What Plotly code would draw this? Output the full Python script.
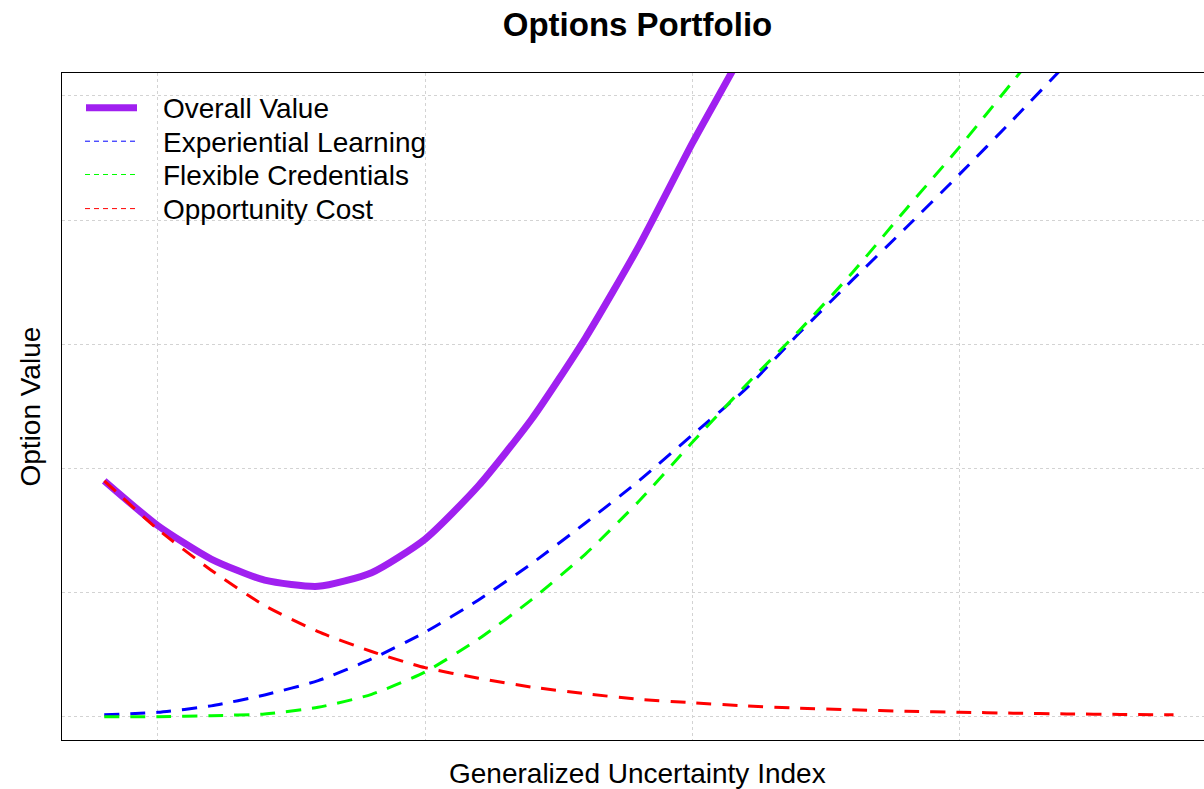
import plotly.graph_objects as go

# ---- data ----
uncertainty = [0.8, 1.0, 1.2, 1.4, 1.6, 1.8, 2.0, 2.2, 2.4, 2.6, 2.8,
               3.0, 3.2, 3.4, 3.6, 3.8, 4.0, 4.2, 4.4, 4.6, 4.8]
overall_value = [1.90, 1.54, 1.27, 1.10, 1.05, 1.16, 1.43, 1.86, 2.40, 3.05, 3.79,
                 4.62, 5.40, 6.29, 7.15, 8.07, 9.00, 9.96, 10.93, 11.92, 12.92]
experiential_learning = [0.015, 0.035, 0.087, 0.175, 0.29, 0.465, 0.68, 0.94, 1.235, 1.56, 1.90,
                         2.27, 2.64, 3.09, 3.52, 3.94, 4.37, 4.81, 5.26, 5.70, 6.15]
flexible_credentials = [0.0, 0.0, 0.008, 0.022, 0.075, 0.18, 0.36, 0.625, 0.945, 1.31, 1.735,
                        2.21, 2.67, 3.11, 3.58, 4.09, 4.59, 5.12, 5.65, 6.20, 6.75]
opportunity_cost = [1.90, 1.51, 1.18, 0.895, 0.685, 0.525, 0.395, 0.31, 0.238, 0.185, 0.14,
                    0.112, 0.087, 0.068, 0.055, 0.043, 0.036, 0.028, 0.022, 0.018, 0.015]

series_names = ["Overall Value", "Experiential Learning", "Flexible Credentials", "Opportunity Cost"]
series_colors = ["#A020F0", "#0000FF", "#00FF00", "#FF0000"]
grid_x = [1, 2, 3, 4]
grid_y = [0, 1, 2, 3, 4, 5]

# ---- layout geometry (page pixels) ----
W, H = 1204, 789
L, R, T, B = 62, 1204, 73, 740          # plot area in page pixels
FONT = "Liberation Sans, Arial, Helvetica, sans-serif"


def px_x(px):
    return (px - L) / (R - L)


def px_y(py):
    return (B - py) / (B - T)


fig = go.Figure()
values = [overall_value, experiential_learning, flexible_credentials, opportunity_cost]
for i, (name, ys, col) in enumerate(zip(series_names, values, series_colors)):
    if i == 0:
        line = dict(color=col, width=7, shape="spline", smoothing=0.6)
    else:
        line = dict(color=col, width=3, dash="15px,11px", shape="spline", smoothing=0.6)
    fig.add_trace(go.Scatter(x=uncertainty, y=ys, mode="lines", name=name,
                             line=line, showlegend=False, hoverinfo="x+y+name"))

# ---- manual legend ----
shapes = []
annotations = []
legend_rows = [108.8, 142.2, 175.5, 209.6]
for i, (name, col, yy) in enumerate(zip(series_names, series_colors, legend_rows)):
    if i == 0:
        shapes.append(dict(type="line", xref="paper", yref="paper",
                           x0=px_x(86), x1=px_x(137), y0=px_y(yy - 1), y1=px_y(yy - 1),
                           line=dict(color=col, width=7)))
    else:
        shapes.append(dict(type="line", xref="paper", yref="paper",
                           x0=px_x(85), x1=px_x(137), y0=px_y(yy - 1), y1=px_y(yy - 1),
                           line=dict(color=col, width=1, dash="5px,4px")))
    annotations.append(dict(text=name, xref="paper", yref="paper",
                            x=px_x(161), y=px_y(yy), xanchor="left", yanchor="middle",
                            showarrow=False, font=dict(family=FONT, size=28, color="black")))

# axis titles as annotations (plot area extends past the right edge)
annotations.append(dict(text="Generalized Uncertainty Index", xref="paper", yref="paper",
                        x=px_x(637.5), y=px_y(773.5), xanchor="center", yanchor="middle",
                        showarrow=False, font=dict(family=FONT, size=28, color="black")))
annotations.append(dict(text="Option Value", xref="paper", yref="paper",
                        x=px_x(30), y=px_y(406.5), xanchor="center", yanchor="middle",
                        textangle=-90, showarrow=False,
                        font=dict(family=FONT, size=28, color="black")))

fig.update_layout(
    width=W, height=H,
    margin=dict(l=L, r=W - R, t=T, b=H - B, pad=0),
    paper_bgcolor="white", plot_bgcolor="white",
    title=dict(text="<b>Options Portfolio</b>", x=637.5 / W, xref="container",
               xanchor="center", y=1 - 24 / H, yref="container", yanchor="middle",
               font=dict(family=FONT, size=33, color="black")),
    showlegend=False,
    shapes=shapes,
    annotations=annotations,
    xaxis=dict(range=[0.642, 4.914], tickvals=grid_x, showticklabels=False, ticks="",
               showgrid=True, gridcolor="#D3D3D3", gridwidth=1, griddash="dot",
               zeroline=False, showline=True, linecolor="black", linewidth=1, mirror=True),
    yaxis=dict(range=[-0.188, 5.185], tickvals=grid_y, showticklabels=False, ticks="",
               showgrid=True, gridcolor="#D3D3D3", gridwidth=1, griddash="dot",
               zeroline=False, showline=True, linecolor="black", linewidth=1, mirror=False),
)

fig.write_html(
    "out.html",
    config={"displayModeBar": False},
    post_script="document.body.style.margin='0';document.body.style.overflow='hidden';",
)
